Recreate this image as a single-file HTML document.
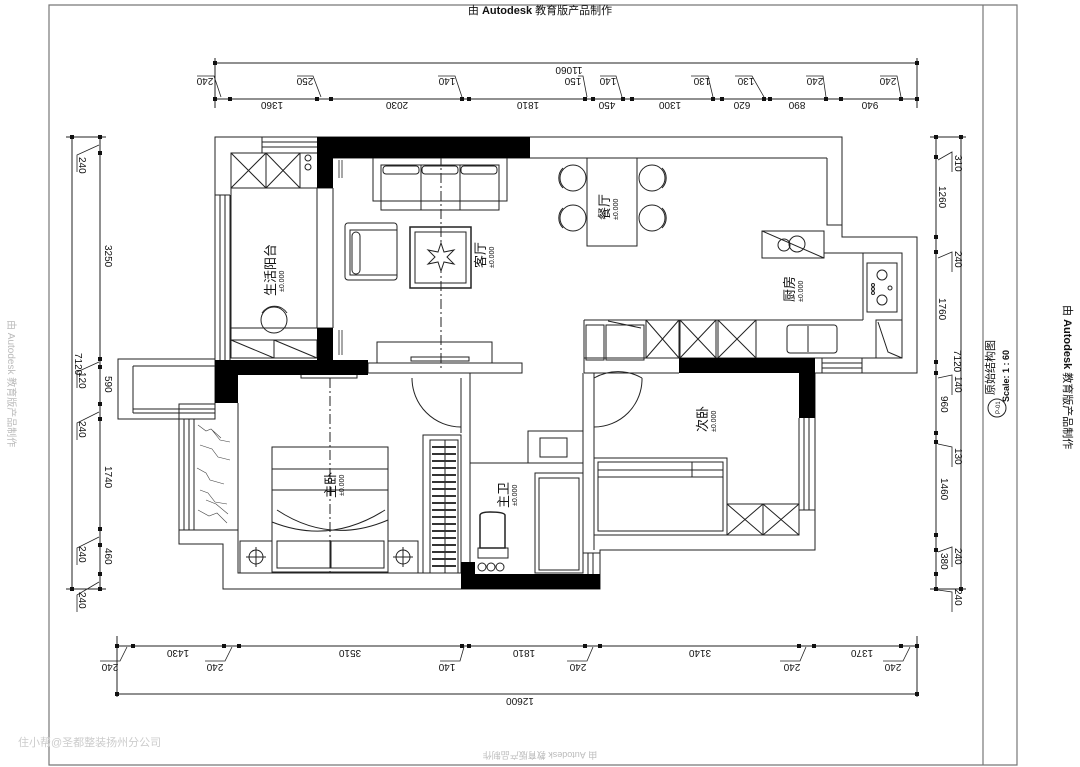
<!DOCTYPE html>
<html><head><meta charset="utf-8"><style>
html,body{margin:0;padding:0;background:#fff;}
svg{display:block;}
text{font-family:"Liberation Sans","Noto Sans CJK SC",sans-serif;fill:#111;}
.d{font-size:10px;}
.r{font-size:13px;}
.s{font-size:7px;}
</style></head><body>
<svg width="1080" height="767" viewBox="0 0 1080 767" xmlns="http://www.w3.org/2000/svg">
<rect width="1080" height="767" fill="#fff"/>
<!-- frame -->
<g stroke="#777" stroke-width="1.2" fill="none">
<path d="M49,5 H1017 V765 H49 Z"/>
<line x1="983" y1="5" x2="983" y2="765"/>
</g>
<text x="540" y="14" text-anchor="middle" style="font-size:11px">由 <tspan font-weight="bold">Autodesk</tspan> 教育版产品制作</text>
<text transform="translate(1064,305) rotate(90)" style="font-size:11px">由 <tspan font-weight="bold">Autodesk</tspan> 教育版产品制作</text>
<text transform="translate(8,320) rotate(90)" style="font-size:10px;fill:#bbb">由 Autodesk 教育版产品制作</text>
<text x="540" y="760" text-anchor="middle" transform="rotate(180,540,756)" style="font-size:9px;fill:#bbb">由 Autodesk 教育版产品制作</text>
<text x="18" y="746" style="font-size:11px;fill:#ccc">住小帮@圣都整装扬州分公司</text>
<!-- title block -->
<text transform="translate(994,395) rotate(-90)" style="font-size:11px">原始结构图</text>
<text transform="translate(1009,402) rotate(-90)" style="font-size:9px;font-weight:bold">Scale: 1 : 60</text>
<circle cx="997" cy="408" r="9" fill="none" stroke="#222"/>
<text transform="translate(1000,414) rotate(-90)" style="font-size:6px">P-01</text>

<!-- TOP DIMENSIONS -->
<g stroke="#222" stroke-width="1" fill="none">
<line x1="215" y1="63" x2="917" y2="63"/>
<line x1="215" y1="99" x2="917" y2="99"/>
<line x1="215" y1="58" x2="215" y2="108"/>
<line x1="917" y1="58" x2="917" y2="108"/>
</g>
<g fill="#111">
<rect x="213" y="61" width="4" height="4"/><rect x="915" y="61" width="4" height="4"/>
<rect x="213" y="97" width="4" height="4"/><rect x="228" y="97" width="4" height="4"/><rect x="315" y="97" width="4" height="4"/><rect x="329" y="97" width="4" height="4"/><rect x="460" y="97" width="4" height="4"/><rect x="467" y="97" width="4" height="4"/><rect x="583" y="97" width="4" height="4"/><rect x="591" y="97" width="4" height="4"/><rect x="621" y="97" width="4" height="4"/><rect x="630" y="97" width="4" height="4"/><rect x="711" y="97" width="4" height="4"/><rect x="720" y="97" width="4" height="4"/><rect x="762" y="97" width="4" height="4"/><rect x="768" y="97" width="4" height="4"/><rect x="824" y="97" width="4" height="4"/><rect x="839" y="97" width="4" height="4"/><rect x="899" y="97" width="4" height="4"/><rect x="915" y="97" width="4" height="4"/>
</g>
<g stroke="#222" stroke-width="0.8" fill="none">
<path d="M197,76 H214 L221,97"/><path d="M297,76 H313 L321,97"/><path d="M438,76 H455 L462,97"/><path d="M578,76 H583 L587,97"/><path d="M600,76 H616 L622,97"/><path d="M691,76 H708 L713,97"/><path d="M735,76 H752 L764,97"/><path d="M806,76 H823 L826,97"/><path d="M880,76 H897 L901,97"/>
</g>
<g class="d">
<text transform="rotate(180,205,82)" x="205" y="86" text-anchor="middle">240</text>
<text transform="rotate(180,305,82)" x="305" y="86" text-anchor="middle">250</text>
<text transform="rotate(180,447,82)" x="447" y="86" text-anchor="middle">140</text>
<text transform="rotate(180,573,82)" x="573" y="86" text-anchor="middle">150</text>
<text transform="rotate(180,608,82)" x="608" y="86" text-anchor="middle">140</text>
<text transform="rotate(180,702,82)" x="702" y="86" text-anchor="middle">130</text>
<text transform="rotate(180,746,82)" x="746" y="86" text-anchor="middle">130</text>
<text transform="rotate(180,815,82)" x="815" y="86" text-anchor="middle">240</text>
<text transform="rotate(180,888,82)" x="888" y="86" text-anchor="middle">240</text>
<text transform="rotate(180,569,71)" x="569" y="75" text-anchor="middle">11060</text>
<text transform="rotate(180,272,106)" x="272" y="110" text-anchor="middle">1360</text>
<text transform="rotate(180,397,106)" x="397" y="110" text-anchor="middle">2030</text>
<text transform="rotate(180,528,106)" x="528" y="110" text-anchor="middle">1810</text>
<text transform="rotate(180,607,106)" x="607" y="110" text-anchor="middle">450</text>
<text transform="rotate(180,670,106)" x="670" y="110" text-anchor="middle">1300</text>
<text transform="rotate(180,742,106)" x="742" y="110" text-anchor="middle">620</text>
<text transform="rotate(180,797,106)" x="797" y="110" text-anchor="middle">890</text>
<text transform="rotate(180,870,106)" x="870" y="110" text-anchor="middle">940</text>
</g>

<!-- LEFT DIMENSIONS -->
<g stroke="#222" stroke-width="1" fill="none">
<line x1="72" y1="137" x2="72" y2="589"/>
<line x1="100" y1="137" x2="100" y2="589"/>
<line x1="66" y1="137" x2="106" y2="137"/><line x1="66" y1="589" x2="106" y2="589"/>
</g>
<g fill="#111">
<rect x="70" y="135" width="4" height="4"/><rect x="70" y="587" width="4" height="4"/>
<rect x="98" y="135" width="4" height="4"/><rect x="98" y="151" width="4" height="4"/><rect x="98" y="357" width="4" height="4"/><rect x="98" y="365" width="4" height="4"/><rect x="98" y="402" width="4" height="4"/><rect x="98" y="417" width="4" height="4"/><rect x="98" y="527" width="4" height="4"/><rect x="98" y="543" width="4" height="4"/><rect x="98" y="572" width="4" height="4"/><rect x="98" y="587" width="4" height="4"/>
</g>
<g stroke="#222" stroke-width="0.8" fill="none">
<path d="M77,172 V155 L99,145"/><path d="M77,440 V423 L99,412"/><path d="M77,565 V548 L99,537"/><path d="M77,612 V595 L99,582"/><path d="M77,388 V372 L99,362"/>
</g>
<g class="d">
<text transform="translate(79,157) rotate(90)">240</text>
<text transform="translate(105,245) rotate(90)">3250</text>
<text transform="translate(75,353) rotate(90)">7120</text>
<text transform="translate(79,372) rotate(90)">120</text>
<text transform="translate(105,376) rotate(90)">590</text>
<text transform="translate(79,421) rotate(90)">240</text>
<text transform="translate(105,466) rotate(90)">1740</text>
<text transform="translate(79,546) rotate(90)">240</text>
<text transform="translate(105,548) rotate(90)">460</text>
<text transform="translate(79,592) rotate(90)">240</text>
</g>

<!-- RIGHT DIMENSIONS -->
<g stroke="#222" stroke-width="1" fill="none">
<line x1="936" y1="137" x2="936" y2="589"/>
<line x1="961" y1="137" x2="961" y2="589"/>
<line x1="930" y1="137" x2="966" y2="137"/><line x1="930" y1="589" x2="966" y2="589"/>
</g>
<g fill="#111">
<rect x="959" y="135" width="4" height="4"/><rect x="959" y="587" width="4" height="4"/>
<rect x="934" y="135" width="4" height="4"/><rect x="934" y="155" width="4" height="4"/><rect x="934" y="235" width="4" height="4"/><rect x="934" y="250" width="4" height="4"/><rect x="934" y="360" width="4" height="4"/><rect x="934" y="371" width="4" height="4"/><rect x="934" y="431" width="4" height="4"/><rect x="934" y="440" width="4" height="4"/><rect x="934" y="533" width="4" height="4"/><rect x="934" y="548" width="4" height="4"/><rect x="934" y="572" width="4" height="4"/><rect x="934" y="587" width="4" height="4"/>
</g>
<g stroke="#222" stroke-width="0.8" fill="none">
<path d="M952,172 V152 L938,160"/><path d="M952,272 V252 L938,258"/><path d="M952,395 V375 L938,378"/><path d="M952,467 V447 L938,444"/><path d="M952,567 V547 L938,552"/><path d="M952,612 V592 L938,590"/>
</g>
<g class="d">
<text transform="translate(955,155) rotate(90)">310</text>
<text transform="translate(939,186) rotate(90)">1260</text>
<text transform="translate(955,251) rotate(90)">240</text>
<text transform="translate(939,298) rotate(90)">1760</text>
<text transform="translate(954,350) rotate(90)">7120</text>
<text transform="translate(955,376) rotate(90)">140</text>
<text transform="translate(941,396) rotate(90)">960</text>
<text transform="translate(955,448) rotate(90)">130</text>
<text transform="translate(941,478) rotate(90)">1460</text>
<text transform="translate(955,548) rotate(90)">240</text>
<text transform="translate(941,553) rotate(90)">380</text>
<text transform="translate(955,589) rotate(90)">240</text>
</g>

<!-- BOTTOM DIMENSIONS -->
<g stroke="#222" stroke-width="1" fill="none">
<line x1="117" y1="646" x2="917" y2="646"/>
<line x1="117" y1="694" x2="917" y2="694"/>
<line x1="117" y1="636" x2="117" y2="697"/><line x1="917" y1="636" x2="917" y2="697"/>
</g>
<g fill="#111">
<rect x="115" y="644" width="4" height="4"/><rect x="131" y="644" width="4" height="4"/><rect x="222" y="644" width="4" height="4"/><rect x="237" y="644" width="4" height="4"/><rect x="460" y="644" width="4" height="4"/><rect x="467" y="644" width="4" height="4"/><rect x="583" y="644" width="4" height="4"/><rect x="598" y="644" width="4" height="4"/><rect x="797" y="644" width="4" height="4"/><rect x="812" y="644" width="4" height="4"/><rect x="899" y="644" width="4" height="4"/><rect x="915" y="644" width="4" height="4"/>
<rect x="115" y="692" width="4" height="4"/><rect x="915" y="692" width="4" height="4"/>
</g>
<g stroke="#222" stroke-width="0.8" fill="none">
<path d="M100,661 H120 L127,647"/><path d="M205,661 H225 L232,647"/><path d="M440,661 H460 L464,647"/><path d="M567,661 H587 L593,647"/><path d="M780,661 H800 L806,647"/><path d="M883,661 H903 L910,647"/>
</g>
<g class="d">
<text transform="rotate(180,110,668)" x="110" y="672" text-anchor="middle">240</text>
<text transform="rotate(180,215,668)" x="215" y="672" text-anchor="middle">240</text>
<text transform="rotate(180,447,668)" x="447" y="672" text-anchor="middle">140</text>
<text transform="rotate(180,578,668)" x="578" y="672" text-anchor="middle">240</text>
<text transform="rotate(180,792,668)" x="792" y="672" text-anchor="middle">240</text>
<text transform="rotate(180,893,668)" x="893" y="672" text-anchor="middle">240</text>
<text transform="rotate(180,178,654)" x="178" y="658" text-anchor="middle">1430</text>
<text transform="rotate(180,350,654)" x="350" y="658" text-anchor="middle">3510</text>
<text transform="rotate(180,524,654)" x="524" y="658" text-anchor="middle">1810</text>
<text transform="rotate(180,700,654)" x="700" y="658" text-anchor="middle">3140</text>
<text transform="rotate(180,862,654)" x="862" y="658" text-anchor="middle">1370</text>
<text transform="rotate(180,520,702)" x="520" y="706" text-anchor="middle">12600</text>
</g>

<!-- PLAN -->
<g stroke="#222" stroke-width="1" fill="none">
<!-- outer -->
<path d="M215,359 V137 H842 V237 H917 V373 H815 V550 H600 V589 H223 V544 H179 V404 H215"/>
<rect x="118" y="359" width="97" height="60"/>
<line x1="133" y1="366" x2="215" y2="366"/><line x1="133" y1="366" x2="133" y2="413"/><line x1="133" y1="413" x2="215" y2="413"/><line x1="133" y1="409" x2="215" y2="409"/>
<!-- lower balcony -->
<line x1="184" y1="419" x2="184" y2="530"/><line x1="189" y1="419" x2="189" y2="530"/><line x1="194" y1="419" x2="194" y2="530"/><line x1="179" y1="530" x2="238" y2="530"/>
<!-- living balcony -->
<line x1="220" y1="195" x2="220" y2="360"/><line x1="225" y1="195" x2="225" y2="360"/><line x1="230" y1="195" x2="230" y2="360"/><line x1="215" y1="195" x2="230" y2="195"/>
<line x1="262" y1="137" x2="262" y2="153"/><line x1="262" y1="142" x2="317" y2="142"/><line x1="262" y1="147" x2="317" y2="147"/><line x1="231" y1="153" x2="317" y2="153"/>
<rect x="231" y="153" width="35" height="35"/><rect x="266" y="153" width="34" height="35"/>
<path d="M231,153 L266,188 M266,153 L231,188 M266,153 L300,188 M300,153 L266,188"/>
<circle cx="308" cy="158" r="3"/><circle cx="308" cy="167" r="3"/>
<line x1="231" y1="188" x2="317" y2="188"/><line x1="231" y1="188" x2="231" y2="358"/>
<line x1="317" y1="188" x2="317" y2="328"/><line x1="333" y1="188" x2="333" y2="328"/>
<line x1="317" y1="188" x2="333" y2="188"/><line x1="317" y1="328" x2="333" y2="328"/>
<circle cx="274" cy="320" r="13"/><path d="M262,313 A15,15 0 0 1 287,313"/>
<line x1="231" y1="328" x2="317" y2="328"/><rect x="231" y="340" width="86" height="18"/><line x1="274" y1="340" x2="274" y2="358"/><path d="M231,340 L274,358 M274,340 L317,358"/>
<!-- living -->
<line x1="333" y1="158" x2="827" y2="158"/>
<line x1="333" y1="188" x2="333" y2="328"/>
<path d="M339,160 v18 M342,160 v18 M339,330 v25 M342,330 v25" stroke-width="0.8"/>
<rect x="373" y="158" width="134" height="43"/>
<rect x="381" y="165" width="118" height="45"/>
<line x1="421" y1="165" x2="421" y2="210"/><line x1="460" y1="165" x2="460" y2="210"/>
<rect x="383" y="166" width="36" height="8" rx="3"/><rect x="422" y="166" width="36" height="8" rx="3"/><rect x="461" y="166" width="36" height="8" rx="3"/>
<rect x="345" y="223" width="52" height="57" rx="3"/><rect x="350" y="230" width="47" height="45"/><rect x="352" y="232" width="8" height="42" rx="4"/>
<rect x="410" y="227" width="61" height="61" stroke-width="1.5"/><rect x="415" y="232" width="51" height="51"/>
<path d="M441,155 V370" stroke-dasharray="10,3,2,3"/>
<rect x="377" y="342" width="115" height="21"/>
<rect x="411" y="357" width="58" height="4"/>
<rect x="368" y="363" width="154" height="10"/>
<!-- dining -->
<rect x="587" y="158" width="50" height="88"/>
<circle cx="573" cy="178" r="13"/><circle cx="573" cy="218" r="13"/><circle cx="652" cy="178" r="13"/><circle cx="652" cy="218" r="13"/>
<path d="M563,168 A14,14 0 0 0 563,188 M563,208 A14,14 0 0 0 563,228 M662,168 A14,14 0 0 1 662,188 M662,208 A14,14 0 0 1 662,228"/>
<!-- kitchen -->
<path d="M827,158 V225 H842"/>
<rect x="762" y="231" width="62" height="27"/><line x1="762" y1="231" x2="824" y2="258"/>
<circle cx="784" cy="245" r="6"/><circle cx="797" cy="244" r="8"/>
<path d="M824,253 H902 V320 M863,253 V320 M584,320 H863"/>
<rect x="867" y="263" width="30" height="49"/>
<circle cx="882" cy="275" r="5"/><circle cx="882" cy="300" r="5"/><circle cx="890" cy="288" r="2"/><circle cx="873" cy="285" r="1.5"/><circle cx="873" cy="289" r="1.5"/><circle cx="873" cy="293" r="1.5"/>
<line x1="584" y1="320" x2="584" y2="373"/><line x1="584" y1="358" x2="876" y2="358"/>
<line x1="876" y1="320" x2="902" y2="320"/><rect x="876" y="320" width="26" height="38"/><path d="M878,322 L888,352 L902,358"/>
<rect x="586" y="325" width="18" height="35"/><rect x="606" y="325" width="38" height="35"/><path d="M608,321 L641,328"/>
<rect x="646" y="320" width="33" height="38"/><rect x="680" y="320" width="36" height="38"/><rect x="718" y="320" width="38" height="38"/>
<path d="M646,320 L679,358 M679,320 L646,358 M680,320 L716,358 M716,320 L680,358 M718,320 L756,358 M756,320 L718,358"/>
<rect x="787" y="325" width="50" height="28" rx="3"/><line x1="808" y1="326" x2="808" y2="352"/>
<line x1="822" y1="358" x2="822" y2="373"/><line x1="822" y1="363" x2="862" y2="363"/><line x1="822" y1="368" x2="862" y2="368"/><line x1="862" y1="358" x2="862" y2="373"/>
<line x1="584" y1="373" x2="679" y2="373"/>
<!-- master bedroom -->
<path d="M238,403 V573 H461"/><line x1="238" y1="373" x2="461" y2="373"/>
<rect x="301" y="373" width="56" height="5"/>
<path d="M330,378 V572" stroke-dasharray="10,3,2,3"/>
<rect x="272" y="447" width="116" height="125"/>
<rect x="272" y="469" width="116" height="21"/>
<path d="M272,522 Q330,545 385,510 M277,510 Q330,545 388,520"/>
<rect x="277" y="541" width="53" height="27"/><rect x="331" y="541" width="53" height="27"/>
<rect x="240" y="541" width="32" height="32"/><rect x="388" y="541" width="30" height="32"/>
<circle cx="256" cy="557" r="7"/><path d="M246,557 h20 M256,547 v20"/>
<circle cx="403" cy="557" r="7"/><path d="M393,557 h20 M403,547 v20"/>
<path d="M412,378 A49,49 0 0 0 461,427"/><line x1="461" y1="378" x2="461" y2="433"/><line x1="470" y1="373" x2="470" y2="573"/>
<rect x="423" y="435" width="38" height="138"/><rect x="430" y="440" width="28" height="133"/>
<path d="M445,440 V573" stroke-width="1"/>
</g>
<g stroke="#333" stroke-width="2">
<path d="M432,447 h24 M432,454 h24 M432,461 h24 M432,468 h24 M432,475 h24 M432,482 h24 M432,489 h24 M432,496 h24 M432,503 h24 M432,510 h24 M432,517 h24 M432,524 h24 M432,531 h24 M432,538 h24 M432,545 h24 M432,552 h24 M432,559 h24 M432,566 h24"/>
</g>
<g stroke="#222" stroke-width="1" fill="none">
<!-- bathroom -->
<line x1="470" y1="463" x2="583" y2="463"/>
<rect x="528" y="431" width="55" height="32"/><rect x="540" y="438" width="27" height="19"/>
<line x1="583" y1="373" x2="583" y2="573"/><line x1="594" y1="373" x2="594" y2="550"/>
<rect x="535" y="473" width="48" height="100"/><rect x="539" y="478" width="40" height="92"/>
<path d="M480,548 V515 Q481,512 490,512 Q504,512 505,515 V548 Z" stroke-width="1.5"/>
<rect x="478" y="548" width="30" height="10"/>
<circle cx="482" cy="567" r="4"/><circle cx="491" cy="567" r="4"/><circle cx="500" cy="567" r="4"/>
<!-- second bedroom -->
<path d="M594,378 A48,48 0 0 1 642,378 M594,378 V427" />
<path d="M642,378 A48,48 0 0 1 594,427" />
<line x1="799" y1="418" x2="799" y2="535"/><line x1="804" y1="418" x2="804" y2="510"/><line x1="809" y1="418" x2="809" y2="510"/><line x1="799" y1="510" x2="815" y2="510"/>
<rect x="594" y="458" width="133" height="77"/><rect x="598" y="462" width="125" height="69"/>
<line x1="692" y1="462" x2="692" y2="477"/><line x1="598" y1="470" x2="723" y2="470"/><line x1="598" y1="477" x2="723" y2="477"/>
<rect x="727" y="504" width="36" height="31"/><rect x="763" y="504" width="36" height="31"/>
<path d="M727,504 L763,535 M763,504 L727,535 M763,504 L799,535 M799,504 L763,535"/>
<line x1="594" y1="535" x2="799" y2="535"/>
<line x1="583" y1="553" x2="600" y2="553"/><line x1="588" y1="553" x2="588" y2="574"/><line x1="593" y1="553" x2="593" y2="574"/>
</g>
<!-- marble texture -->
<g stroke="#444" stroke-width="0.6" fill="none">
<path d="M198,425 l8,6 l5,-2 l10,9 M200,445 l12,4 l6,8 l12,3 M197,468 l9,5 l4,7 l14,4 M200,490 l8,3 l7,9 l12,2 M198,510 l11,6 l8,-3 l10,10 M212,430 l8,10 l10,2 M206,500 l10,4 l12,10"/>
</g>
<!-- black walls -->
<g fill="#000">
<rect x="317" y="137" width="213" height="21"/>
<rect x="317" y="158" width="16" height="30"/>
<rect x="317" y="328" width="16" height="32"/>
<rect x="215" y="360" width="153" height="15"/>
<rect x="215" y="375" width="23" height="28"/>
<rect x="461" y="574" width="139" height="15"/>
<rect x="461" y="562" width="14" height="12"/>
<rect x="679" y="358" width="136" height="15"/>
<rect x="799" y="373" width="16" height="45"/>
</g>
<!-- star -->
<polygon points="441,243 444,252 454,250 447,257 454,264 444,262 441,271 438,262 428,264 435,257 428,250 438,252" fill="#fff" stroke="#222" stroke-width="1"/>
<!-- room labels -->
<g>
<text class="r" transform="translate(275,296) rotate(-90)">生活阳台</text>
<text class="s" transform="translate(284,292) rotate(-90)">±0.000</text>
<text class="r" transform="translate(485,268) rotate(-90)">客厅</text>
<text class="s" transform="translate(494,268) rotate(-90)">±0.000</text>
<text class="r" transform="translate(609,220) rotate(-90)">餐厅</text>
<text class="s" transform="translate(618,220) rotate(-90)">±0.000</text>
<text class="r" transform="translate(794,302) rotate(-90)">厨房</text>
<text class="s" transform="translate(803,302) rotate(-90)">±0.000</text>
<text class="r" transform="translate(335,498) rotate(-90)">主卧</text>
<text class="s" transform="translate(344,496) rotate(-90)">±0.000</text>
<text class="r" transform="translate(508,508) rotate(-90)">主卫</text>
<text class="s" transform="translate(517,506) rotate(-90)">±0.000</text>
<text class="r" transform="translate(707,432) rotate(-90)">次卧</text>
<text class="s" transform="translate(716,432) rotate(-90)">±0.000</text>
</g>
</svg>
</body></html>
